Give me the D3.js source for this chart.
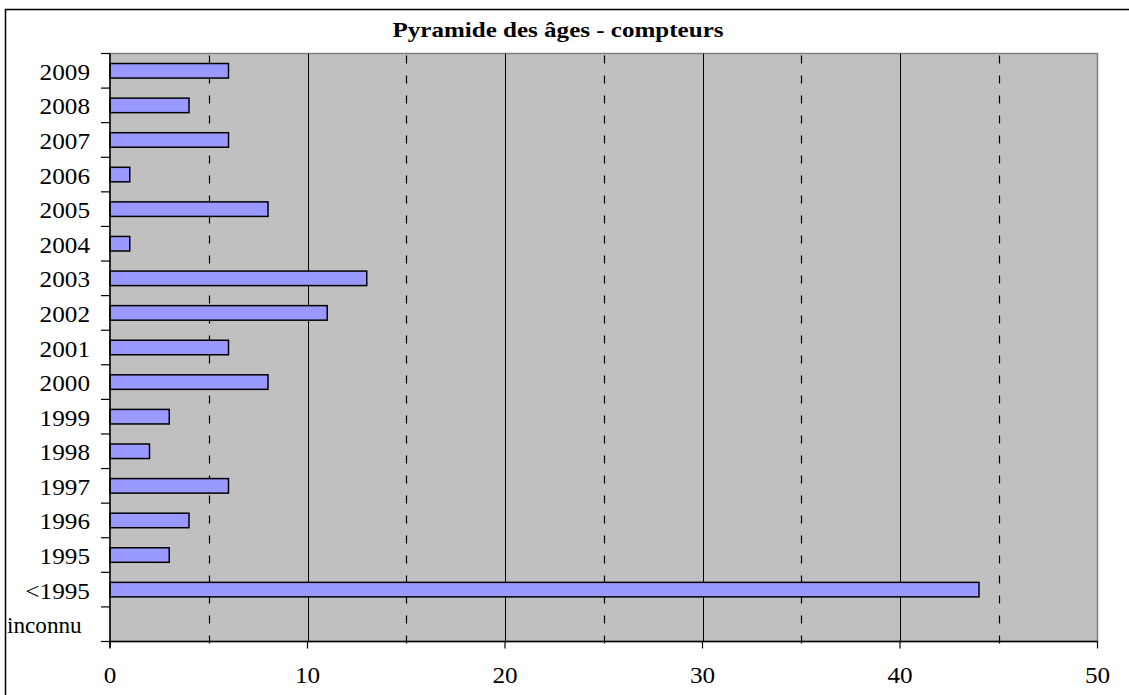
<!DOCTYPE html>
<html>
<head>
<meta charset="utf-8">
<script src="https://cdn.jsdelivr.net/npm/d3@7"></script>
<style>
  html, body { margin: 0; padding: 0; background: #fff; overflow: hidden; }
  svg { display: block; }
</style>
</head>
<body>
<svg id="chart" width="1129" height="695" font-family="'Liberation Serif', 'Times New Roman', serif"></svg>
<script>
// Age pyramid of meters: count per installation year
const categories = ["2009", "2008", "2007", "2006", "2005", "2004", "2003", "2002",
  "2001", "2000", "1999", "1998", "1997", "1996", "1995", "<1995", "inconnu"];
const counts = [6, 4, 6, 1, 8, 1, 13, 11, 6, 8, 3, 2, 6, 4, 3, 44, 0];
const xTicks = [0, 10, 20, 30, 40, 50];
const xMinorTicks = [5, 15, 25, 35, 45];
const title = "Pyramide des âges - compteurs";

const svg = d3.select("#chart");
const plot = { left: 110, top: 53.5, right: 1097.5, bottom: 641.5 };
const frameLeft = 6;
const labelRoom = 72; // widest label that still fits right-aligned in the margin

// widen glyphs horizontally (numerals are set slightly stretched)
function stretch(sel, factorOf) {
  sel.each(function (d) {
    const len = this.getComputedTextLength();
    d3.select(this).attr("textLength", len * factorOf(d)).attr("lengthAdjust", "spacingAndGlyphs");
  });
}

// outer chart frame
svg.append("rect")
  .attr("x", frameLeft - 0.5).attr("y", 9.5)
  .attr("width", 1140).attr("height", 700)
  .attr("fill", "#fff").attr("stroke", "#000").attr("stroke-width", 1.5);

const x = d3.scaleLinear().domain([0, 50]).range([plot.left, plot.right]);
const y = d3.scaleBand().domain(categories).range([plot.top, plot.bottom])
  .paddingInner(0.58).paddingOuter(0.29);
const yb = d3.scaleBand().domain(categories).range([plot.top, plot.bottom]);

// plot background
svg.append("rect")
  .attr("x", plot.left).attr("y", plot.top)
  .attr("width", plot.right - plot.left).attr("height", plot.bottom - plot.top)
  .attr("fill", "#c0c0c0").attr("stroke", "#808080").attr("stroke-width", 1.5);

// gridlines: solid every 10, dashed at the halfway marks
svg.append("g").selectAll("line").data(xTicks.slice(1, -1)).join("line")
  .attr("x1", d => Math.round(x(d)) + 0.5).attr("x2", d => Math.round(x(d)) + 0.5)
  .attr("y1", plot.top).attr("y2", plot.bottom)
  .attr("stroke", "#000").attr("stroke-width", 1);
svg.append("g").selectAll("line").data(xMinorTicks).join("line")
  .attr("x1", d => Math.round(x(d)) + 0.5).attr("x2", d => Math.round(x(d)) + 0.5)
  .attr("y1", plot.top + 2).attr("y2", plot.bottom + 5)
  .attr("stroke", "#000").attr("stroke-width", 1.2)
  .attr("stroke-dasharray", "8,12");

// bars
svg.append("g").selectAll("rect").data(categories.map((c, i) => ({ c, v: counts[i] })))
  .join("rect")
  .filter(d => d.v > 0)
  .attr("x", x(0))
  .attr("y", d => y(d.c))
  .attr("width", d => x(d.v) - x(0))
  .attr("height", y.bandwidth())
  .attr("fill", "#9999ff").attr("stroke", "#000").attr("stroke-width", 1.5);

// y axis: tick marks at band boundaries
const yAxisG = svg.append("g");
yAxisG.append("line")
  .attr("x1", plot.left).attr("x2", plot.left)
  .attr("y1", plot.top).attr("y2", plot.bottom + 6)
  .attr("stroke", "#000").attr("stroke-width", 1.5);
const bounds = categories.map(c => yb(c)).concat([plot.bottom]);
yAxisG.selectAll("line.tick").data(bounds).join("line")
  .attr("class", "tick")
  .attr("x1", plot.left - 9).attr("x2", plot.left)
  .attr("y1", d => d).attr("y2", d => d)
  .attr("stroke", "#000").attr("stroke-width", 1.2);
yAxisG.selectAll("text").data(categories).join("text")
  .attr("x", 90)
  .attr("y", d => yb(d) + yb.bandwidth() / 2 + 9)
  .attr("text-anchor", "end")
  .attr("font-size", 22.5)
  .text(d => d)
  .call(stretch, d => /^[<\d]/.test(d) ? 1.12 : 1.03)
  .each(function () {
    // labels too wide for the margin are set flush against the frame
    const b = this.getBBox();
    if (b.width > labelRoom) {
      d3.select(this).attr("text-anchor", "start").attr("x", frameLeft + 1);
    }
  });

// x axis
const xAxisG = svg.append("g");
xAxisG.append("line")
  .attr("x1", plot.left).attr("x2", plot.right)
  .attr("y1", plot.bottom).attr("y2", plot.bottom)
  .attr("stroke", "#000").attr("stroke-width", 1.5);
xAxisG.selectAll("line.tick").data(xTicks).join("line")
  .attr("class", "tick")
  .attr("x1", d => x(d)).attr("x2", d => x(d))
  .attr("y1", plot.bottom).attr("y2", plot.bottom + 7)
  .attr("stroke", "#000").attr("stroke-width", 1.2);
xAxisG.selectAll("text").data(xTicks).join("text")
  .attr("x", d => x(d))
  .attr("y", 683)
  .attr("text-anchor", "middle")
  .attr("font-size", 22.5)
  .text(d => d)
  .call(stretch, () => 1.12);

// title
svg.append("text")
  .attr("x", 558).attr("y", 37)
  .attr("text-anchor", "middle")
  .attr("font-size", 21.5).attr("font-weight", "bold")
  .text(title)
  .attr("textLength", 331).attr("lengthAdjust", "spacingAndGlyphs");
</script>
</body>
</html>
